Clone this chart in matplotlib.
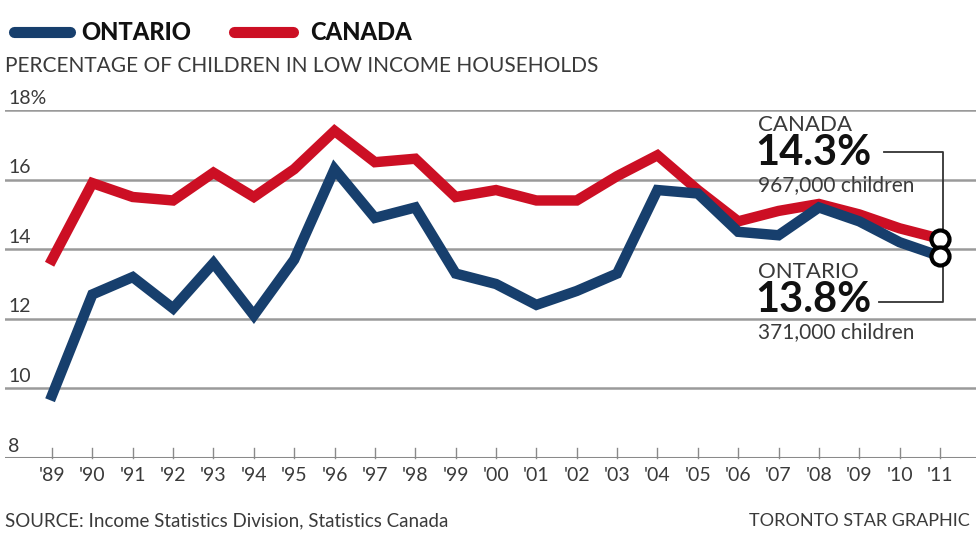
import matplotlib
matplotlib.use('Agg')
import matplotlib.pyplot as plt
from matplotlib.lines import Line2D

plt.rcParams['font.family'] = ['Lato', 'DejaVu Sans']

# ---- Data (percent of children in low income households)
years = ["'89", "'90", "'91", "'92", "'93", "'94", "'95", "'96", "'97", "'98", "'99", "'00",
         "'01", "'02", "'03", "'04", "'05", "'06", "'07", "'08", "'09", "'10", "'11"]
ontario = [9.8, 12.7, 13.2, 12.3, 13.6, 12.1, 13.7, 16.3, 14.9, 15.2, 13.3, 13.0,
           12.4, 12.8, 13.3, 15.7, 15.6, 14.5, 14.4, 15.2, 14.8, 14.2, 13.8]
canada = [13.7, 15.9, 15.5, 15.4, 16.2, 15.5, 16.3, 17.4, 16.5, 16.6, 15.5, 15.7,
          15.4, 15.4, 16.1, 16.7, 15.7, 14.8, 15.1, 15.3, 15.0, 14.6, 14.3]
y_ticks = [8, 10, 12, 14, 16, 18]
y_labels = ['8', '10', '12', '14', '16', '18%']

NAVY = '#173f6d'
RED = '#cc0f24'
GRID = '#9a9a9a'
TXT = '#3a3a3a'

W, H = 976, 534
fig = plt.figure(figsize=(W / 100, H / 100), dpi=100)
fig.patch.set_facecolor('white')


def fx(px):
    return px / W


def fy(py):
    return 1 - py / H


# ---- Axes: left edge at px 5, right edge at 976, y 8 at px 458, y 18 at px 110
ax = fig.add_axes([fx(5), fy(458), fx(971), (458 - 110) / H])
x = list(range(len(years)))
step = 40.36
ax.set_xlim(-47 / step, 22 + 36 / step)
ax.set_ylim(8, 18)
ax.axis('off')

for v, lab in zip(y_ticks, y_labels):
    if v > 8:
        ax.axhline(v, color=GRID, lw=1.8, zorder=1)
    ax.text(fx(8), fy(110 + (18 - v) * 34.8 - 12), lab, transform=fig.transFigure,
            ha='left', va='center', fontsize=14, color=TXT)

# bottom axis with small ticks
ax.axhline(8, color='#8a8a8a', lw=2.2, zorder=1)
for i, lab in enumerate(years):
    ax.plot([i, i], [8, 8.28], color='#8a8a8a', lw=1.0, zorder=1, clip_on=False)
    ax.text(i, 7.5, lab, ha='center', va='center', fontsize=14, color=TXT)

ax.plot(x, canada, color=RED, lw=7.5, solid_joinstyle='miter', zorder=3)
ax.plot(x, ontario, color=NAVY, lw=7.5, solid_joinstyle='miter', zorder=3)
ax.plot([x[-1]], [canada[-1]], 'o', ms=13, mfc='white', mec='black', mew=3, zorder=5)
ax.plot([x[-1]], [ontario[-1]], 'o', ms=13, mfc='white', mec='black', mew=3, zorder=5)

# ---- Bracket for annotations
bx = 22.07
ax.plot([20.62, bx, bx, 20.5], [16.8, 16.8, 12.48, 12.48], color='#333333', lw=1.3,
        zorder=4, clip_on=False)

ax.text(fx(758), fy(125), 'CANADA', transform=fig.transFigure, ha='left', va='center',
        fontsize=16, color=TXT)
ax.text(fx(755), fy(153), '14.3%', transform=fig.transFigure, ha='left', va='center',
        fontsize=30, fontweight='bold', color='#111111')
ax.text(fx(758), fy(185), '967,000 children', transform=fig.transFigure, ha='left',
        va='center', fontsize=15, color=TXT)
ax.text(fx(758), fy(272), 'ONTARIO', transform=fig.transFigure, ha='left', va='center',
        fontsize=16, color=TXT)
ax.text(fx(755), fy(300), '13.8%', transform=fig.transFigure, ha='left', va='center',
        fontsize=30, fontweight='bold', color='#111111')
ax.text(fx(758), fy(332), '371,000 children', transform=fig.transFigure, ha='left',
        va='center', fontsize=15, color=TXT)

# ---- Legend
fig.add_artist(Line2D([fx(14), fx(70)], [fy(32), fy(32)], color=NAVY, lw=8,
                      solid_capstyle='round', transform=fig.transFigure))
fig.text(fx(81), fy(32), 'ONTARIO', ha='left', va='center', fontsize=17,
         fontweight='black', color='#111111')
fig.add_artist(Line2D([fx(234), fx(293)], [fy(32), fy(32)], color=RED, lw=8,
                      solid_capstyle='round', transform=fig.transFigure))
fig.text(fx(310), fy(32), 'CANADA', ha='left', va='center', fontsize=17,
         fontweight='black', color='#111111')

fig.text(fx(5), fy(66), 'PERCENTAGE OF CHILDREN IN LOW INCOME HOUSEHOLDS', ha='left',
         va='center', fontsize=15, color=TXT)

# ---- Footer
fig.text(fx(5), fy(521), 'SOURCE: Income Statistics Division, Statistics Canada', ha='left',
         va='center', fontsize=13.5, color=TXT)
fig.text(fx(970), fy(521), 'TORONTO STAR GRAPHIC', ha='right', va='center', fontsize=13,
         color=TXT)

fig.savefig('out.png', dpi=100, facecolor='white')
